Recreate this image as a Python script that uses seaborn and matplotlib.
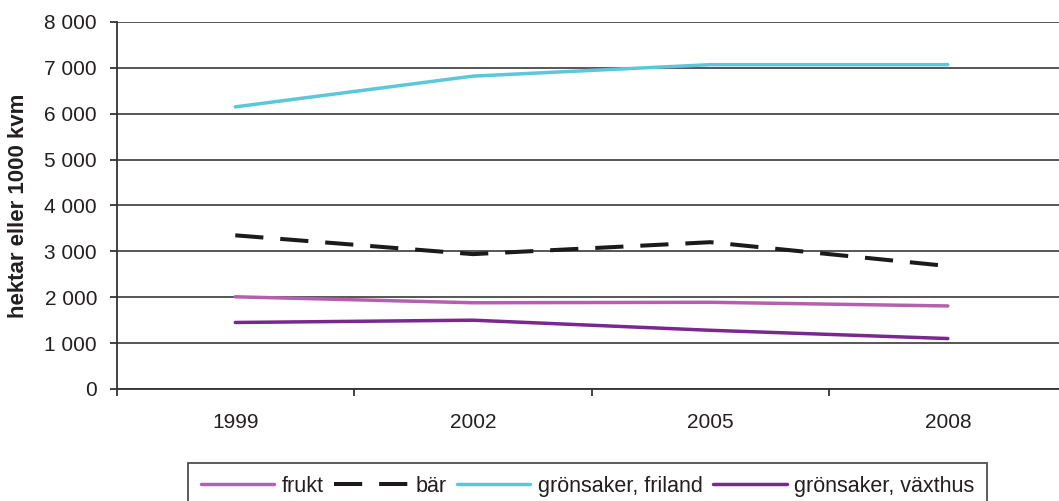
import pandas as pd
import numpy as np
import matplotlib
matplotlib.use("Agg")
import matplotlib.pyplot as plt
from matplotlib.ticker import FuncFormatter, FixedLocator
import seaborn as sns

#%% Data
years = ["1999", "2002", "2005", "2008"]
frukt = [2010, 1880, 1890, 1810]
bar = [3350, 2940, 3200, 2680]
friland = [6150, 6820, 7070, 7070]
vaxthus = [1450, 1500, 1280, 1100]

series_names = ["frukt", "bär", "grönsaker, friland", "grönsaker, växthus"]
colors = ["#b460ae", "#1c1a1b", "#5bc7db", "#7a288f"]

df = pd.DataFrame({"år": years, "frukt": frukt, "bär": bar,
                   "grönsaker, friland": friland, "grönsaker, växthus": vaxthus})
df = df.melt(id_vars="år", var_name="serie", value_name="värde")

#%% Plot
sns.set_style("white")
plt.rcParams["font.family"] = ["Liberation Sans", "DejaVu Sans"]
txt_col = "#231f20"
dash_pat = (7, 4.2)

fig = plt.figure(figsize=(10.59, 5.01), dpi=100)
ax = fig.add_axes([116.5/1059, 1-389/501, 1-116.5/1059, (389-22)/501])

sns.lineplot(data=df, x="år", y="värde", hue="serie", style="serie",
             hue_order=series_names, style_order=series_names,
             palette=dict(zip(series_names, colors)),
             dashes={"frukt": "", "bär": dash_pat, "grönsaker, friland": "",
                     "grönsaker, växthus": ""},
             linewidth=2.5, legend=False, ax=ax)
# dashed line a bit thicker
for ln in ax.get_lines():
    if ln.get_color() == colors[1]:
        ln.set_linewidth(2.9)

ax.set_ylim(0, 8000)
ax.set_xlim(-0.5, 3.468)
ax.set_yticks(np.arange(0, 8001, 1000))
ax.yaxis.set_major_formatter(FuncFormatter(lambda v, p: f"{int(v):,}".replace(",", " ")))
ax.yaxis.grid(True, color="#3a3a3a", linewidth=1.2)
ax.set_axisbelow(True)

# category boundaries as ticks
ax.set_xticks(range(4))
ax.set_xticklabels(years)
ax.xaxis.set_minor_locator(FixedLocator([-0.5, 0.5, 1.5, 2.5, 3.5]))
ax.tick_params(axis="x", which="major", length=0, labelsize=15, pad=17, labelcolor=txt_col)
ax.tick_params(axis="x", which="minor", length=5, width=1.3, color="#333333", direction="out", bottom=True)
ax.tick_params(axis="y", length=5, width=1.3, color="#333333", direction="out", left=True,
               labelsize=15, labelcolor=txt_col, pad=9)

for s in ["top", "right"]:
    ax.spines[s].set_visible(False)
for s in ["left", "bottom"]:
    ax.spines[s].set_color("#333333")
    ax.spines[s].set_linewidth(1.3)

ax.set_xlabel("")
ax.set_ylabel("hektar eller 1000 kvm", fontsize=16, fontweight="bold", color=txt_col)
ax.yaxis.set_label_coords((29 - 116.5)/942.5, 0.5)

# Legend
handles = []
for name, c in zip(series_names, colors):
    if name == "bär":
        h, = ax.plot([], [], color=c, linewidth=2.9, dashes=dash_pat, label=name)
    else:
        h, = ax.plot([], [], color=c, linewidth=2.5, label=name)
    handles.append(h)
leg = fig.legend(handles=handles, loc="upper left", bbox_to_anchor=(188/1059, 1-463/501),
                 ncol=4, frameon=True, fancybox=False, edgecolor="#222222",
                 fontsize=15.5, handlelength=3.4, handletextpad=0.35, columnspacing=0.5,
                 borderpad=0.6, borderaxespad=0)
leg.get_frame().set_linewidth(1.3)
for t in leg.get_texts():
    t.set_color(txt_col)

plt.savefig("out.png", dpi=100)
plt.close()
